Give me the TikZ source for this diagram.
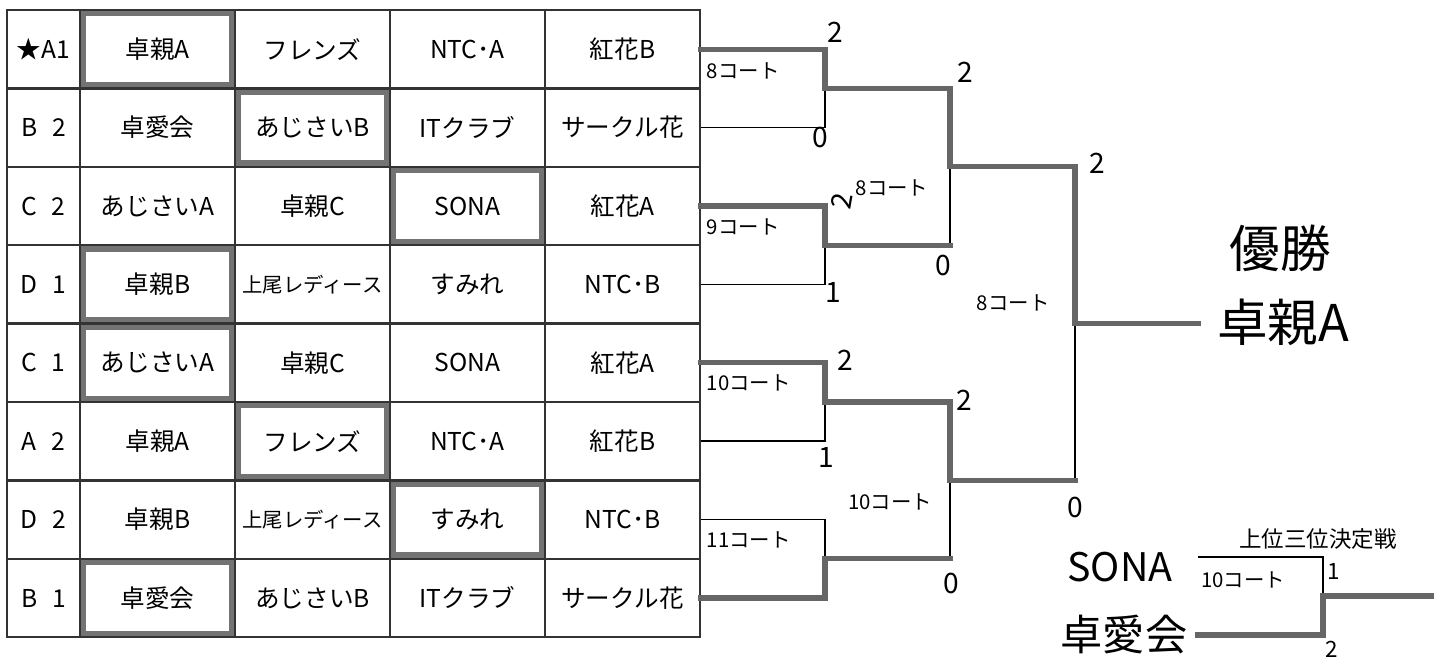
\documentclass[tikz,border=0pt]{standalone}
\usepackage{fontspec}
\setmainfont{Noto Sans CJK JP}
\tikzset{
  cell/.style={draw=black!80, line width=1.6pt, minimum width=3.875cm, minimum height=1.96cm, inner sep=0pt, font=\fontsize{17.5}{20}\selectfont},
  tag/.style={cell, minimum width=1.825cm},
  won/.style={cell, path picture={\draw [line width=9pt, black!55] (path picture bounding box.south west) rectangle (path picture bounding box.north east);}},
  thin/.style={line width=1.1pt},
  win/.style={line width=3.8pt, black!60, line cap=rect},
  court/.style={font=\fontsize{14.5}{16}\selectfont},
  score/.style={font=\fontsize{20}{22}\selectfont, inner sep=1pt},
  hand/.style={font=\fontsize{36}{40}\selectfont},
}
\begin{document}
\begin{tikzpicture}
\useasboundingbox (0,0) rectangle (35.85,16.575);

\node [tag] (k1) at (1.0875, 15.345) {★A1};
\node [won] (a1) at (3.9375, 15.345) {卓親A};
\node [cell] (b1) at (7.8125, 15.345) {フレンズ};
\node [cell] (c1) at (11.6875, 15.345) {NTC･A};
\node [cell] (d1) at (15.5625, 15.345) {紅花B};

\node [tag] (k2) at (1.0875, 13.385) {B\hspace{0.6em}2};
\node [cell] (a2) at (3.9375, 13.385) {卓愛会};
\node [won] (b2) at (7.8125, 13.385) {あじさいB};
\node [cell] (c2) at (11.6875, 13.385) {ITクラブ};
\node [cell] (d2) at (15.5625, 13.385) {サークル花};

\node [tag] (k3) at (1.0875, 11.425) {C\hspace{0.6em}2};
\node [cell] (a3) at (3.9375, 11.425) {あじさいA};
\node [cell] (b3) at (7.8125, 11.425) {卓親C};
\node [won] (c3) at (11.6875, 11.425) {SONA};
\node [cell] (d3) at (15.5625, 11.425) {紅花A};

\node [tag] (k4) at (1.0875, 9.465) {D\hspace{0.6em}1};
\node [won] (a4) at (3.9375, 9.465) {卓親B};
\node [cell, font=\fontsize{14.5}{16}\selectfont] (b4) at (7.8125, 9.465) {上尾レディース};
\node [cell] (c4) at (11.6875, 9.465) {すみれ};
\node [cell] (d4) at (15.5625, 9.465) {NTC･B};

\node [tag] (k5) at (1.0875, 7.505) {C\hspace{0.6em}1};
\node [won] (a5) at (3.9375, 7.505) {あじさいA};
\node [cell] (b5) at (7.8125, 7.505) {卓親C};
\node [cell] (c5) at (11.6875, 7.505) {SONA};
\node [cell] (d5) at (15.5625, 7.505) {紅花A};

\node [tag] (k6) at (1.0875, 5.545) {A\hspace{0.6em}2};
\node [cell] (a6) at (3.9375, 5.545) {卓親A};
\node [won] (b6) at (7.8125, 5.545) {フレンズ};
\node [cell] (c6) at (11.6875, 5.545) {NTC･A};
\node [cell] (d6) at (15.5625, 5.545) {紅花B};

\node [tag] (k7) at (1.0875, 3.585) {D\hspace{0.6em}2};
\node [cell] (a7) at (3.9375, 3.585) {卓親B};
\node [cell, font=\fontsize{14.5}{16}\selectfont] (b7) at (7.8125, 3.585) {上尾レディース};
\node [won] (c7) at (11.6875, 3.585) {すみれ};
\node [cell] (d7) at (15.5625, 3.585) {NTC･B};

\node [tag] (k8) at (1.0875, 1.625) {B\hspace{0.6em}1};
\node [won] (a8) at (3.9375, 1.625) {卓愛会};
\node [cell] (b8) at (7.8125, 1.625) {あじさいB};
\node [cell] (c8) at (11.6875, 1.625) {ITクラブ};
\node [cell] (d8) at (15.5625, 1.625) {サークル花};

\node [] (u1) at (20.625, 15.345) {};
\node [] (v1) at (20.625, 13.385) {};
\node [] (j1) at (20.625, 14.365) {};
\node [] (u2) at (20.625, 11.425) {};
\node [] (v2) at (20.625, 9.465) {};
\node [] (j2) at (20.625, 10.445) {};
\node [] (u3) at (20.625, 7.505) {};
\node [] (v3) at (20.625, 5.545) {};
\node [] (j3) at (20.625, 6.525) {};
\node [] (u4) at (20.625, 3.585) {};
\node [] (v4) at (20.625, 1.625) {};
\node [] (j4) at (20.625, 2.605) {};
\node [] (u5) at (23.75, 14.365) {};
\node [] (v5) at (23.75, 10.445) {};
\node [] (j5) at (23.75, 12.405) {};
\node [] (u6) at (23.75, 6.525) {};
\node [] (v6) at (23.75, 2.605) {};
\node [] (j6) at (23.75, 4.565) {};
\node [] (u7) at (26.875, 12.405) {};
\node [] (v7) at (26.875, 4.565) {};
\node [] (j7) at (26.875, 8.485) {};
\node [] (w7) at (29.95, 8.485) {};
\node [] (q1) at (29.95, 2.65) {};
\node [] (q2) at (29.95, 0.70) {};
\node [] (u8) at (33.075, 2.65) {};
\node [] (v8) at (33.075, 0.70) {};
\node [] (j8) at (33.075, 1.675) {};
\node [] (w8) at (35.85, 1.675) {};

\draw [thin] (d2.east) to (v1.center) to (j1.center);
\draw [thin] (d4.east) to (v2.center) to (j2.center);
\draw [thin] (d6.east) to (v3.center) to (j3.center);
\draw [thin] (d7.east) to (u4.center) to (j4.center);
\draw [thin] (v5.center) to (j5.center);
\draw [thin] (v6.center) to (j6.center);
\draw [thin] (v7.center) to (j7.center);
\draw [thin] (q1.center) to (u8.center) to (j8.center);

\draw [win] (d1.east) to (u1.center) to (j1.center) to (u5.center) to (j5.center) to (u7.center) to (j7.center) to (w7.center);
\draw [win] (d3.east) to (u2.center) to (j2.center) to (v5.center);
\draw [win] (d5.east) to (u3.center) to (j3.center) to (u6.center) to (j6.center) to (v7.center);
\draw [win] (d8.east) to (v4.center) to (j4.center) to (v6.center);
\draw [win] (q2.center) to (v8.center) to (j8.center) to (w8.center);

\node [court, anchor=west] (l1) at (17.55, 14.8) {8コート};
\node [court, anchor=west] (l2) at (17.55, 10.9) {9コート};
\node [court, anchor=west] (l3) at (17.55, 7.0) {10コート};
\node [court, anchor=west] (l4) at (17.55, 3.08) {11コート};
\node [court] (l5) at (22.3, 11.875) {8コート};
\node [court] (l6) at (22.25, 4.03) {10コート};
\node [court] (l7) at (25.33, 9.0) {8コート};
\node [court] (l8) at (31.08, 2.075) {10コート};
\node [font=\fontsize{16}{18}\selectfont] (l9) at (32.95, 3.1) {上位三位決定戦};

\node [score] (s1) at (20.875, 15.775) {2};
\node [score] (s2) at (20.5, 13.15) {0};
\node [score, rotate=80] (s3) at (21.05, 11.55) {2};
\node [score] (s4) at (20.825, 9.275) {1};
\node [score] (s5) at (21.125, 7.575) {2};
\node [score] (s6) at (20.65, 5.15) {1};
\node [score] (s7) at (24.125, 14.775) {2};
\node [score] (s8) at (23.575, 9.95) {0};
\node [score] (s9) at (24.1, 6.575) {2};
\node [score] (s10) at (23.775, 2.0) {0};
\node [score] (s11) at (27.425, 12.5) {2};
\node [score] (s12) at (26.875, 3.9) {0};
\node [score, font=\fontsize{16}{18}\selectfont] (s13) at (33.35, 2.3) {1};
\node [score, font=\fontsize{16}{18}\selectfont] (s14) at (33.3, 0.34) {2};

\node [hand] (n1) at (32.0, 10.375) {優勝};
\node [hand] (n2) at (32.08, 8.525) {卓親A};
\node [hand, font=\fontsize{28}{30}\selectfont] (n3) at (28.0, 2.4) {SONA};
\node [hand, font=\fontsize{30}{32}\selectfont] (n4) at (28.1, 0.7) {卓愛会};
\end{tikzpicture}
\end{document}
